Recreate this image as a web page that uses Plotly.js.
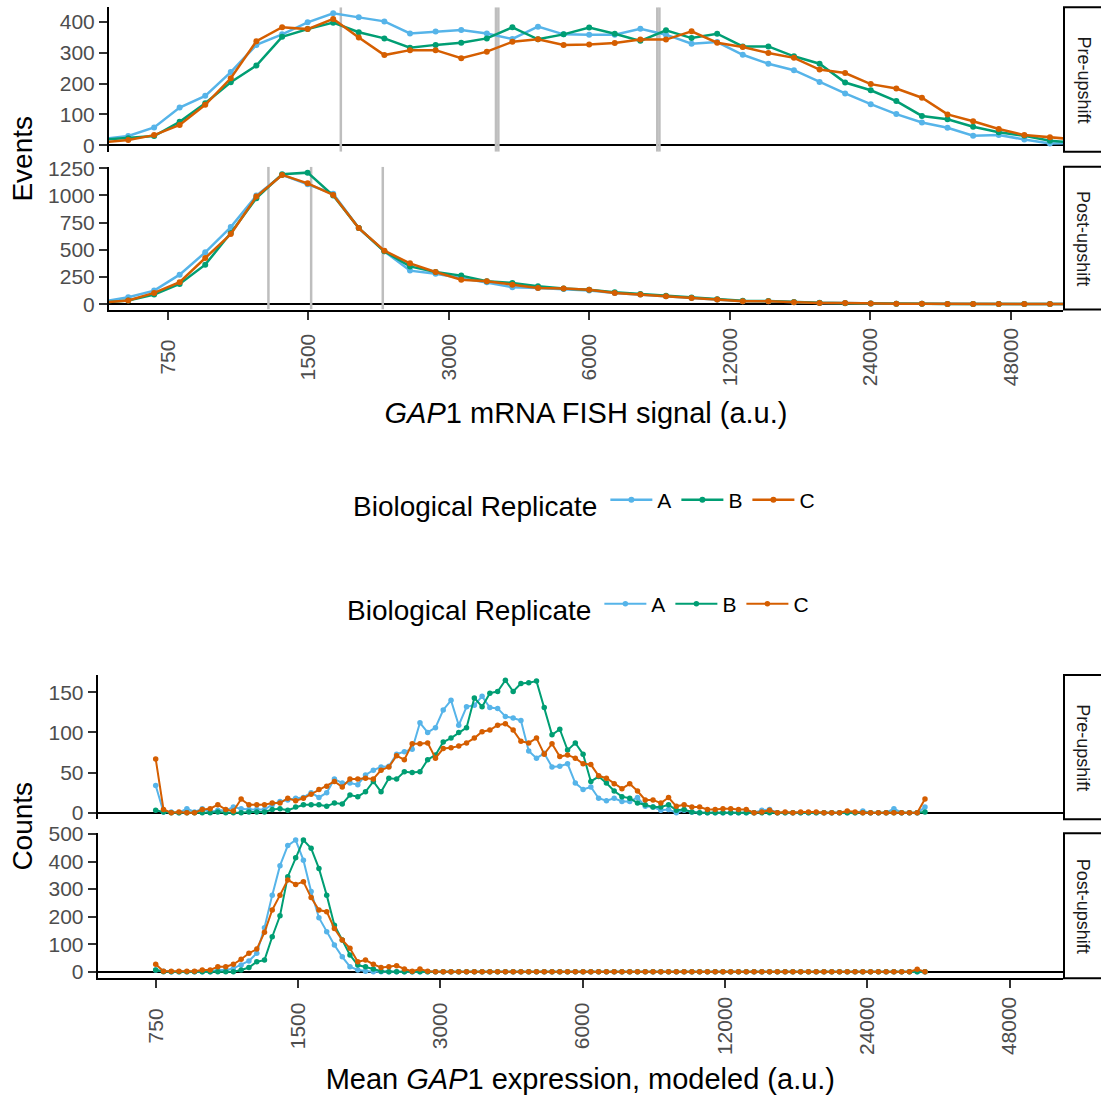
<!DOCTYPE html>
<html>
<head>
<meta charset="utf-8">
<script src="https://cdn.plot.ly/plotly-3.0.1.min.js"></script>
<style>html,body{margin:0;padding:0;background:#fff;}#chart{width:1101px;height:1097px;}</style>
</head>
<body>
<div id="chart"></div>
<script>
// ---------- DATA ----------
const replicates = ['A', 'B', 'C'];
const tickValues = [750, 1500, 3000, 6000, 12000, 24000, 48000];
const tickLabels = ['750\u2007', '1500\u2008', '3000\u2008', '6000\u2008', '12000', '24000', '48000'];

// Top chart: GAP1 mRNA FISH signal bins
const fishBins = [544, 617, 701, 795, 902, 1023, 1161, 1318, 1495, 1696, 1924, 2183, 2477, 2811, 3190, 3619, 4106, 4658, 5286, 5997, 6804, 7720, 8760, 9940, 11277, 12795, 14518, 16472, 18691, 21205, 24060, 27300, 30975, 35145, 39878, 45248, 51338, 58253, 66098];
const fishPreA = [20, 30, 58, 122, 160, 237, 325, 359, 398, 427, 414, 401, 362, 368, 373, 362, 344, 384, 359, 358, 358, 377, 358, 329, 334, 293, 264, 243, 205, 168, 133, 101, 74, 57, 31, 33, 19, 6, 8];
const fishPreB = [18, 23, 30, 76, 136, 204, 258, 351, 376, 397, 366, 346, 316, 325, 332, 346, 382, 343, 359, 381, 361, 338, 372, 347, 361, 320, 320, 288, 264, 203, 178, 143, 95, 84, 60, 42, 31, 15, 8];
const fishPreC = [10, 17, 33, 66, 131, 217, 337, 382, 376, 409, 349, 292, 308, 308, 282, 303, 335, 343, 325, 326, 331, 342, 342, 369, 332, 318, 299, 283, 245, 234, 198, 184, 154, 100, 78, 53, 33, 26, 19];
const fishPostA = [25, 64, 125, 272, 477, 709, 999, 1189, 1103, 1015, 700, 486, 309, 281, 241, 202, 156, 150, 140, 125, 104, 89, 73, 58, 43, 28, 28, 18, 12, 12, 6, 5, 4, 3, 3, 2, 2, 2, 2];
const fishPostB = [15, 34, 89, 186, 364, 654, 975, 1195, 1210, 999, 700, 486, 348, 296, 263, 211, 196, 165, 144, 134, 110, 95, 78, 62, 45, 32, 30, 20, 13, 10, 6, 5, 4, 3, 3, 2, 2, 2, 2];
const fishPostC = [15, 34, 104, 202, 425, 645, 990, 1189, 1112, 1005, 700, 492, 376, 296, 226, 211, 180, 150, 144, 134, 104, 89, 73, 58, 43, 28, 28, 18, 12, 12, 6, 5, 4, 3, 3, 2, 2, 2, 2];
// gray reference lines (per replicate, a.u.)
const fishPreMarks = [1761, 3786, 3831, 8392, 8482];
const fishPostMarks = [1232, 1521, 2166];

// Bottom chart: modeled mean GAP1 expression
const modelBins = [750, 779, 809, 840, 873, 906, 941, 978, 1015, 1055, 1095, 1137, 1181, 1227, 1274, 1323, 1374, 1427, 1483, 1540, 1599, 1661, 1725, 1791, 1861, 1932, 2007, 2084, 2165, 2248, 2335, 2425, 2518, 2616, 2717, 2821, 2930, 3043, 3161, 3282, 3409, 3541, 3677, 3819, 3966, 4119, 4278, 4443, 4615, 4793, 4977, 5169, 5369, 5576, 5791, 6014, 6246, 6487, 6738, 6998, 7267, 7548, 7839, 8141, 8455, 8782, 9120, 9472, 9837, 10217, 10611, 11020, 11445, 11887, 12345, 12822, 13316, 13830, 14363, 14917, 15493, 16090, 16711, 17356, 18025, 18721, 19443, 20193, 20972, 21781, 22621, 23493, 24400, 25341, 26318, 27333, 28388, 29483, 30620, 31801];
const modelPreA = [34, 1, 1, 0, 5, 1, 5, 1, 3, 3, 7, 5, 4, 4, 4, 10, 14, 16, 18, 19, 25, 19, 25, 42, 37, 37, 35, 47, 53, 57, 58, 73, 76, 79, 112, 100, 106, 128, 140, 109, 132, 134, 145, 131, 130, 120, 118, 115, 77, 68, 74, 57, 58, 61, 37, 29, 32, 18, 15, 18, 14, 14, 19, 8, 7, 3, 4, 0, 3, 1, 0, 0, 0, 0, 0, 0, 0, 0, 3, 4, 0, 0, 0, 0, 0, 0, 0, 0, 0, 0, 0, 2, 0, 0, 0, 5, 0, 0, 0, 7];
const modelPreB = [3, 1, 0, 0, 0, 0, 0, 0, 1, 0, 0, 0, 1, 1, 1, 4, 5, 3, 7, 10, 10, 10, 8, 12, 11, 22, 20, 26, 39, 26, 43, 42, 51, 50, 51, 66, 72, 88, 93, 100, 106, 143, 132, 149, 151, 165, 151, 161, 162, 164, 131, 97, 104, 78, 87, 73, 39, 45, 37, 27, 20, 18, 12, 10, 7, 7, 10, 3, 4, 1, 0, 0, 0, 0, 0, 0, 0, 0, 0, 0, 0, 0, 0, 0, 0, 0, 0, 0, 0, 0, 0, 0, 0, 0, 0, 0, 0, 0, 0, 1];
const modelPreC = [67, 4, 0, 1, 0, 0, 4, 5, 10, 4, 2, 17, 10, 10, 10, 12, 12, 18, 15, 18, 23, 29, 33, 39, 32, 42, 42, 43, 42, 53, 57, 71, 66, 86, 86, 87, 68, 80, 81, 83, 87, 93, 101, 103, 109, 111, 103, 89, 87, 93, 73, 86, 70, 72, 68, 61, 60, 46, 43, 36, 30, 36, 27, 16, 16, 12, 19, 8, 10, 7, 7, 4, 4, 5, 5, 4, 4, 0, 1, 3, 0, 1, 0, 1, 1, 1, 0, 0, 0, 2, 1, 0, 0, 0, 0, 0, 0, 0, 0, 17];
const modelPostA = [6, 2, 0, 0, 0, 0, 0, 0, 6, 6, 12, 24, 39, 67, 160, 278, 385, 458, 478, 405, 291, 196, 145, 97, 54, 18, 6, 2, 0, 0, 0, 0, 0, 0, 0, 0, 0, 0, 0, 0, 0, 0, 0, 0, 0, 0, 0, 0, 0, 0, 0, 0, 0, 0, 0, 0, 0, 0, 0, 0, 0, 0, 0, 0, 0, 0, 0, 0, 0, 0, 0, 0, 0, 0, 0, 0, 0, 0, 0, 0, 0, 0, 0, 0, 0, 0, 0, 0, 0, 0, 0, 0, 0, 0, 0, 0, 0, 0, 0, 0];
const modelPostB = [6, 0, 0, 0, 0, 0, 0, 0, 0, 0, 0, 6, 15, 36, 42, 127, 203, 345, 414, 478, 448, 375, 278, 169, 115, 61, 24, 18, 10, 2, 0, 0, 0, 0, 0, 0, 0, 0, 0, 0, 0, 0, 0, 0, 0, 0, 0, 0, 0, 0, 0, 0, 0, 0, 0, 0, 0, 0, 0, 0, 0, 0, 0, 0, 0, 0, 0, 0, 0, 0, 0, 0, 0, 0, 0, 0, 0, 0, 0, 0, 0, 0, 0, 0, 0, 0, 0, 0, 0, 0, 0, 0, 0, 0, 0, 0, 0, 0, 0, 0];
const modelPostC = [27, 2, 2, 2, 2, 2, 6, 6, 18, 18, 27, 45, 67, 82, 143, 224, 278, 333, 317, 327, 269, 224, 218, 157, 115, 85, 36, 42, 27, 15, 18, 22, 10, 2, 10, 2, 0, 0, 0, 0, 0, 0, 0, 0, 0, 0, 0, 0, 0, 0, 0, 0, 0, 0, 0, 0, 0, 0, 0, 0, 0, 0, 0, 0, 0, 0, 0, 0, 0, 0, 0, 0, 0, 0, 0, 0, 0, 0, 0, 0, 0, 0, 0, 0, 0, 0, 0, 0, 0, 0, 0, 0, 0, 0, 0, 0, 0, 0, 9, 0];

const stripLabels = ['Pre-upshift', 'Post-upshift'];

// ---------- STYLE ----------
const FONT = 'Liberation Sans, Arial, Helvetica, sans-serif';
const colors = {A: '#56B4E9', B: '#009E73', C: '#D55E00'};
const W = 1101, H = 1097;
const px2x = p => p / W;
const px2y = p => 1 - p / H;
const ranges = {
  y: [-20.7, 446.6], y2: [-48.6, 1264.7], y3: [-8.2, 171.6], y4: [-24, 502.5]
};

const traces = [];
// gray vertical reference lines, drawn first (under the data)
function vlines(vals, xa, ya) {
  const xs = [], ys = [];
  vals.forEach(v => { xs.push(v, v, null); ys.push(ranges[ya][0], ranges[ya][1], null); });
  traces.push({type: 'scatter', mode: 'lines', x: xs, y: ys, xaxis: xa, yaxis: ya, showlegend: false,
    hoverinfo: 'skip', line: {color: '#bebebe', width: 2.5}, connectgaps: false});
}
vlines(fishPreMarks, 'x', 'y');
vlines(fishPostMarks, 'x', 'y2');

function addSeries(xs, ys, rep, xa, ya, legendId, show, mSize, lWidth) {
  traces.push({
    type: 'scatter', mode: 'lines+markers', x: xs, y: ys, name: rep,
    xaxis: xa, yaxis: ya, legend: legendId, showlegend: show, legendgroup: legendId + rep,
    line: {color: colors[rep], width: lWidth},
    marker: {color: colors[rep], size: mSize},
    hoverinfo: 'x+y+name'
  });
}
const fishPre = {A: fishPreA, B: fishPreB, C: fishPreC};
const fishPost = {A: fishPostA, B: fishPostB, C: fishPostC};
const modelPre = {A: modelPreA, B: modelPreB, C: modelPreC};
const modelPost = {A: modelPostA, B: modelPostB, C: modelPostC};
replicates.forEach(r => addSeries(fishBins, fishPre[r], r, 'x', 'y', 'legend', true, 6, 2.5));
replicates.forEach(r => addSeries(fishBins, fishPost[r], r, 'x', 'y2', 'legend', false, 6, 2.5));
replicates.forEach(r => addSeries(modelBins, modelPre[r], r, 'x2', 'y3', 'legend2', true, 5.5, 2));
replicates.forEach(r => addSeries(modelBins, modelPost[r], r, 'x2', 'y4', 'legend2', false, 5.5, 2));

const shapes = [];
const annotations = [];
function strip(ya, label) {
  shapes.push({type: 'rect', xref: 'paper', yref: ya + ' domain', x0: px2x(1064), x1: 1.02, y0: 0, y1: 1,
    line: {color: '#000', width: 2}, fillcolor: '#fff', layer: 'above'});
  annotations.push({xref: 'paper', yref: ya + ' domain', x: px2x(1083), y: 0.5, text: label, showarrow: false,
    textangle: 90, font: {family: FONT, size: 18, color: '#1a1a1a'}, xanchor: 'center', yanchor: 'middle'});
}
strip('y', stripLabels[0]); strip('y2', stripLabels[1]);
strip('y3', stripLabels[0]); strip('y4', stripLabels[1]);

annotations.push({xref: 'paper', yref: 'paper', x: px2x(23), y: px2y(158.6), text: 'Events', showarrow: false,
  textangle: -90, xanchor: 'center', yanchor: 'middle', font: {family: FONT, size: 28, color: '#000'}});
annotations.push({xref: 'paper', yref: 'paper', x: px2x(23), y: px2y(826.6), text: 'Counts', showarrow: false,
  textangle: -90, xanchor: 'center', yanchor: 'middle', font: {family: FONT, size: 28, color: '#000'}});

const tickFont = {family: FONT, size: 21, color: '#4d4d4d'};
function yAxis(dom, range, tv, anchor) {
  return {domain: [px2y(dom[1]), px2y(dom[0])], range: range, anchor: anchor, tickvals: tv,
    showline: true, linecolor: '#000', linewidth: 2, ticks: 'outside', ticklen: 8, tickwidth: 2, tickcolor: '#333',
    tickfont: tickFont, showgrid: false, zeroline: true, zerolinecolor: '#000', zerolinewidth: 2,
    automargin: false, fixedrange: true};
}
function xAxis(dom, range, anchor, title, standoff) {
  return {domain: [px2x(dom[0]), px2x(dom[1])], type: 'log', range: range.map(Math.log10), anchor: anchor,
    tickvals: tickValues, ticktext: tickLabels, tickangle: -90, tickfont: tickFont,
    showline: true, linecolor: '#000', linewidth: 2, ticks: 'outside', ticklen: 8, tickwidth: 2, tickcolor: '#333',
    showgrid: false, zeroline: false, automargin: false, fixedrange: true,
    title: {text: title, font: {family: FONT, size: 29, color: '#000'}, standoff: standoff}};
}

function legendCfg(xp, yp) {
  return {orientation: 'h', x: px2x(xp), xanchor: 'left', y: px2y(yp), yanchor: 'middle',
    title: {text: 'Biological Replicate', side: 'left', font: {family: FONT, size: 28, color: '#000'}},
    font: {family: FONT, size: 21, color: '#000'}, bgcolor: 'rgba(0,0,0,0)', itemwidth: 42};
}

const layout = {
  width: W, height: H, margin: {l: 0, r: 0, t: 0, b: 0},
  paper_bgcolor: '#fff', plot_bgcolor: '#fff', font: {family: FONT, color: '#000'},
  xaxis: xAxis([109, 1063], [561, 62130], 'y2', '<i>GAP</i>1 mRNA FISH signal (a.u.)', 17),
  xaxis2: xAxis([97.7, 1063], [565.4, 62290], 'y4', 'Mean <i>GAP</i>1 expression, modeled (a.u.)', 15),
  yaxis: yAxis([7.3, 151.7], ranges.y, [0, 100, 200, 300, 400], 'x'),
  yaxis2: yAxis([166.7, 309.5], ranges.y2, [0, 250, 500, 750, 1000, 1250], 'x'),
  yaxis3: yAxis([675, 819.3], ranges.y3, [0, 50, 100, 150], 'x2'),
  yaxis4: yAxis([833.3, 978.3], ranges.y4, [0, 100, 200, 300, 400, 500], 'x2'),
  legend: legendCfg(351, 503),
  legend2: legendCfg(345, 607),
  shapes: shapes, annotations: annotations, hovermode: 'closest'
};

Plotly.newPlot('chart', traces, layout, {staticPlot: true, displayModeBar: false});
</script>
</body>
</html>
